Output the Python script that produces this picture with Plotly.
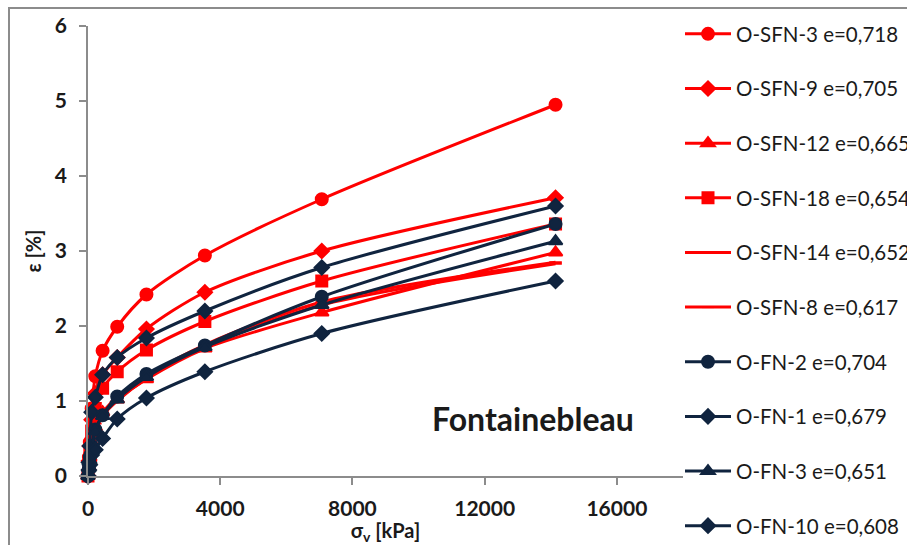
import plotly.graph_objects as go

# vertical stress steps [kPa]
sigma = [0, 27.6, 55.3, 110.5, 221, 442, 884, 1768, 3536, 7072, 14144]

names = ["O-SFN-3 e=0,718", "O-SFN-9 e=0,705", "O-SFN-12 e=0,665", "O-SFN-18 e=0,654",
         "O-SFN-14 e=0,652", "O-SFN-8 e=0,617", "O-FN-2 e=0,704", "O-FN-1 e=0,679",
         "O-FN-3 e=0,651", "O-FN-10 e=0,608"]

sfn3 = [0, 0.25, 0.45, 0.90, 1.33, 1.67, 1.99, 2.42, 2.94, 3.69, 4.95]
sfn9 = [0, 0.20, 0.40, 0.75, 1.10, 1.35, 1.58, 1.96, 2.45, 3.00, 3.71]
sfn12 = [0, 0.12, 0.25, 0.45, 0.65, 0.85, 1.02, 1.29, 1.70, 2.18, 2.98]
sfn18 = [0, 0.15, 0.30, 0.60, 0.90, 1.17, 1.39, 1.68, 2.06, 2.60, 3.36]
sfn14 = [0, 0.15, 0.30, 0.50, 0.70, 0.85, 1.05, 1.33, 1.75, 2.32, 2.85]
sfn8 = [0, 0.10, 0.22, 0.42, 0.60, 0.80, 1.00, 1.30, 1.72, 2.28, 2.83]
fn2 = [0, 0.10, 0.25, 0.40, 0.62, 0.81, 1.06, 1.36, 1.74, 2.39, 3.36]
fn1 = [0, 0.18, 0.40, 0.85, 1.05, 1.35, 1.58, 1.84, 2.20, 2.78, 3.60]
fn3 = [0, 0.10, 0.20, 0.35, 0.60, 0.80, 1.02, 1.32, 1.72, 2.28, 3.13]
fn10 = [0, 0.08, 0.15, 0.28, 0.35, 0.50, 0.76, 1.04, 1.39, 1.90, 2.60]

series = [sfn3, sfn9, sfn12, sfn18, sfn14, sfn8, fn2, fn1, fn3, fn10]

RED = "#FF0000"
NAVY = "#10243F"
styles = [
    (RED, "circle", 12), (RED, "diamond", 11), (RED, "triangle-up", 12), (RED, "square", 11),
    (RED, "line-ew", 9), (RED, "line-ew", 9),
    (NAVY, "circle", 12), (NAVY, "diamond", 11), (NAVY, "triangle-up", 12), (NAVY, "diamond", 11),
]

FONT = "Lato"
TXT = "#1a1a1a"

fig = go.Figure()
for i, (nm, ys) in enumerate(zip(names, series)):
    col, sym, sz = styles[i]
    fig.add_trace(go.Scatter(
        x=sigma, y=ys, name=nm, mode="lines+markers",
        line=dict(color=col, width=3, shape="spline", smoothing=0.8),
        marker=dict(symbol=sym, size=sz, color=col, line=dict(color=col, width=2)),
        legendgroup=f"g{i}", cliponaxis=False,
    ))

# plot area in pixels: x 88..683, y 26..476
L, R, T, B = 88, 683, 26, 476
W, H = 907, 545
pw, ph = R - L, B - T

def px(xp):
    return (xp - L) / pw

def py(yp):
    return (B - yp) / ph

fig.update_layout(
    width=W, height=H,
    margin=dict(l=L, r=W - R, t=T, b=H - B, pad=0, autoexpand=False),
    paper_bgcolor="white", plot_bgcolor="white",
    font=dict(family=FONT, color=TXT),
    showlegend=True,
    legend=dict(
        xref="container", yref="container",
        x=680 / W, y=1 - 14 / H, xanchor="left", yanchor="top",
        traceorder="grouped", tracegroupgap=25, maxheight=600,
        font=dict(family=FONT, size=20.5, color=TXT),
        bgcolor="rgba(0,0,0,0)", itemwidth=46,
    ),
    xaxis=dict(
        range=[0, 18000], tickvals=[0, 4000, 8000, 12000, 16000],
        ticktext=["0", "4000", "8000", "12000", "16000"],
        showgrid=False, zeroline=False, showline=True, linecolor="#8C8C8C", linewidth=1.5,
        ticks="outside", ticklen=7, tickcolor="#8C8C8C", tickwidth=1.5, ticklabelstandoff=6,
        tickfont=dict(family=FONT, size=21, color=TXT, weight="bold"),
        title=dict(text="σ<sub>v</sub> [kPa]", standoff=0,
                   font=dict(family=FONT, size=20, color=TXT, weight="bold")),
    ),
    yaxis=dict(
        range=[0, 6], tickvals=[0, 1, 2, 3, 4, 5, 6],
        showgrid=False, zeroline=False, showline=True, linecolor="#8C8C8C", linewidth=1.5,
        ticks="outside", ticklen=7, tickcolor="#8C8C8C", tickwidth=1.5, ticklabelstandoff=8,
        tickfont=dict(family=FONT, size=21, color=TXT, weight="bold"),
        title=dict(text="ε [%]", standoff=8,
                   font=dict(family=FONT, size=20, color=TXT, weight="bold")),
    ),
    annotations=[dict(
        x=13460, y=0.77, xref="x", yref="y", text="Fontainebleau", showarrow=False,
        font=dict(family=FONT, size=32, color=TXT, weight="bold"),
        xanchor="center", yanchor="middle",
    )],
    shapes=[dict(
        type="rect", xref="paper", yref="paper",
        x0=px(9), x1=px(1000), y0=py(700), y1=py(8),
        line=dict(color="#8C8C8C", width=2), fillcolor="rgba(0,0,0,0)", layer="below",
    )],
)

fig.write_html("out.html")
